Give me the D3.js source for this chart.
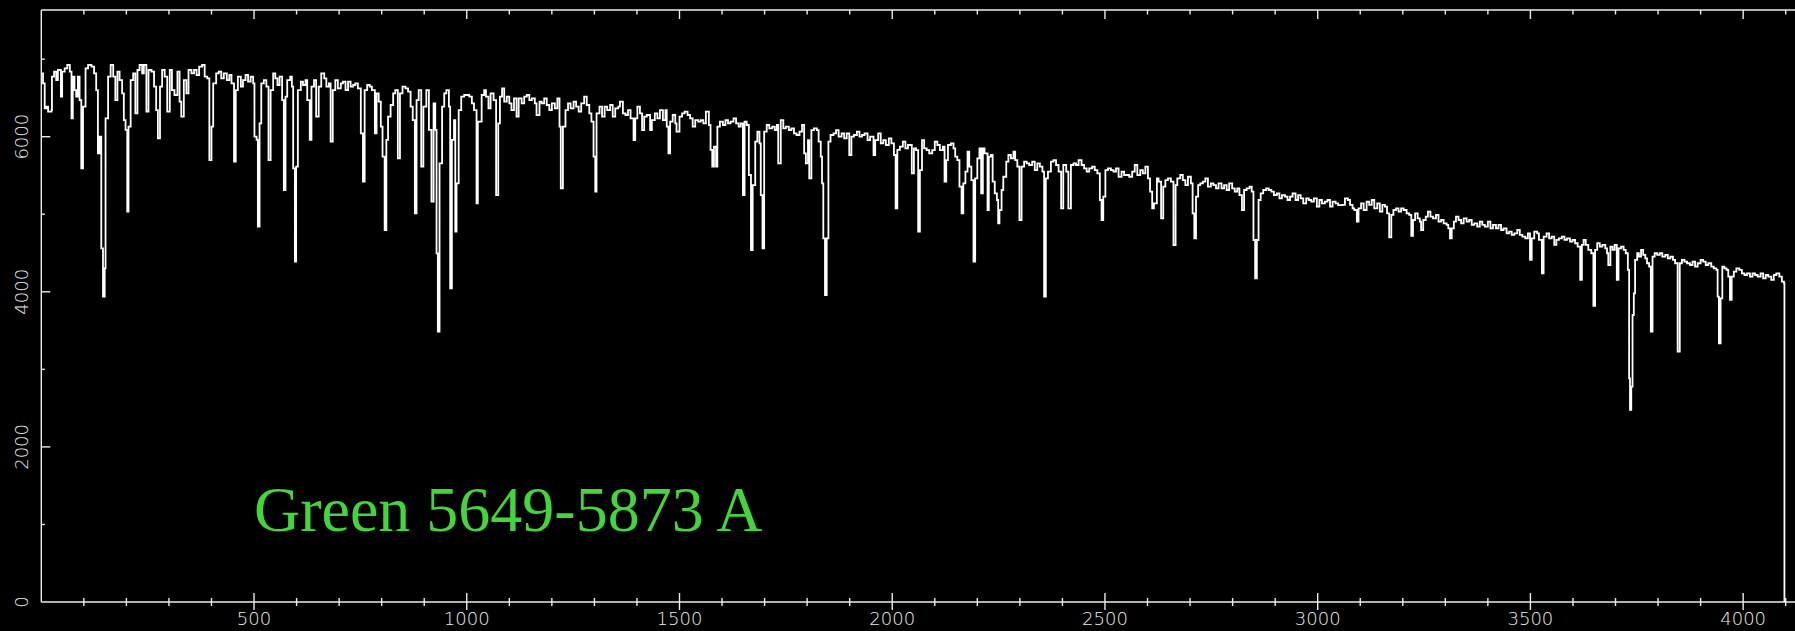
<!DOCTYPE html>
<meta charset="utf-8">
<head>
  <title>Green 5649-5873 A</title>
</head>
<script src="https://d3js.org/d3.v7.min.js"></script>
<style>
  body { margin: 0; background: #000; }
  svg { display: block; }
</style>
<div id="chart"></div>
<script>

  // spectrum, [pixel, counts], in four chunks
  var specA = [[1,6817],[4,6688],[8,6366],[12,6387],[16,6323],[24,6344],[25,6774],[30,6839],[35,6731],[39,6860],[46,6516],[49,6839],[55,6882],[61,6925],[67,6839],[71,6237],[74,6774],[78,6602],[82,6516],[86,6774],[90,6473],[94,5592],[98,6387],[104,6882],[110,6925],[118,6903],[124,6817],[129,6602],[133,5786],[137,6001],[141,4561],[145,3938],[149,4303],[151,6237],[157,6774],[163,6925],[169,6774],[174,6473],[179,6839],[184,6731],[190,6559],[194,6215],[198,6087],[202,5034],[205,6130],[210,6731],[216,6817],[221,6301],[226,6860],[231,6925],[237,6817],[241,6925],[247,6323],[252,6860],[259,6839],[265,6645],[270,6344],[274,5979],[279,6645],[284,6860],[290,6774],[296,6323],[302,6860],[307,6602],[313,6538],[320,6839],[325,6452],[329,6258],[335,6731],[341,6559],[346,6860],[353,6817],[359,6860],[365,6796],[371,6903],[378,6925],[384,6774],[390,6753],[395,5700],[400,6130],[404,6688],[411,6817],[417,6839],[423,6753],[429,6817],[436,6731],[442,6796],[447,6688],[453,5678],[457,6602],[462,6774],[469,6645],[474,6731],[480,6796],[486,6710],[492,6774],[498,6688],[501,6001],[506,5958],[509,4840],[513,6172],[517,6688],[523,6731],[529,6645],[534,5700],[539,6602],[545,6817],[550,6753],[555,6667],[560,6774],[566,6473],[570,5313],[574,6516],[578,6731],[585,6774],[589,6645],[592,5592],[596,4389],[599,5614],[603,6602],[610,6710],[615,6667],[621,6731],[625,6473],[631,5958],[635,6645],[641,6731],[646,6258],[652,6645],[658,6817],[665,6753],[670,6645],[676,6688],[680,5936],[685,6602],[691,6731],[697,6624],[704,6688],[709,6710],[715,6602],[721,6710],[727,6645],[733,6667],[738,6688],[744,6624],[751,6044],[756,5420],[760,6602],[766,6667],[772,6645],[777,6602],[784,6044],[788,6559],[793,6452],[798,6130],[802,5743],[807,4797],[811,5958],[815,6258],[821,6409],[827,6559],[832,6602],[838,5721],[843,6559],[849,6645],[856,6624],[862,6581],[868,6387],[873,6215],[878,5012],[882,6473],[887,6602],[893,5614],[898,6387],[905,6602],[911,6087],[917,5162],[922,6430],[926,6087],[929,4496],[932,3486],[936,5657],[942,6387],[947,6559],[952,6602],[958,6387],[961,4045],[965,5958],[970,6215],[973,4776],[976,5399],[981,6344],[987,6516],[994,6538],[1000,6538],[1006,6516],[1012,6430],[1017,6344],[1023,5141],[1026,6194]];

  var specB = [[1035,6538],[1041,6602],[1045,6516],[1051,6366],[1056,6559],[1063,6473],[1069,5248],[1074,6172],[1078,6516],[1083,6624],[1088,6452],[1094,6516],[1100,6430],[1105,6344],[1111,6495],[1117,6258],[1122,6495],[1129,6430],[1135,6516],[1141,6538],[1147,6473],[1153,6495],[1160,6430],[1164,6280],[1171,6452],[1176,6430],[1182,6495],[1188,6409],[1194,6344],[1200,6430],[1207,6366],[1213,6495],[1218,6129],[1221,5334],[1226,6129],[1232,6344],[1238,6430],[1244,6366],[1251,6452],[1257,6387],[1263,6323],[1269,6430],[1276,6516],[1282,6409],[1288,6301],[1293,6194],[1298,5743],[1302,5291],[1305,6301],[1312,6387],[1318,6258],[1324,6387],[1330,6344],[1337,6409],[1343,6258],[1349,6366],[1356,6387],[1360,6452],[1367,6301],[1373,6280],[1379,6344],[1385,6237],[1392,5957],[1396,6237],[1401,6387],[1407,6301],[1412,6086],[1417,6258],[1423,6280],[1431,6086],[1435,6215],[1442,6301],[1448,6237],[1454,6344],[1461,6215],[1467,6344],[1470,6129],[1474,5786],[1478,6194],[1484,6280],[1490,6172],[1493,6065],[1500,6258],[1506,6301],[1512,6323],[1519,6280],[1525,6237],[1531,6129],[1537,6215],[1544,6194],[1550,6215],[1556,6172],[1562,6323],[1569,6151],[1573,5829],[1577,5614],[1581,5872],[1586,5614],[1589,6129],[1595,6194],[1602,6151],[1608,6215],[1614,6172],[1620,6194],[1627,6237],[1633,6172],[1639,6129],[1644,6172],[1649,5248],[1653,6194],[1658,6151],[1663,5506],[1668,4539],[1672,5377],[1678,5936],[1683,6065],[1688,5914],[1691,5248],[1695,4561],[1699,6065],[1705,6151],[1711,6108],[1718,6129],[1724,6086],[1729,6151],[1732,5656],[1738,6215],[1744,6108],[1750,6129],[1757,6086],[1763,6108],[1769,6043],[1775,6022],[1782,6065],[1788,6151],[1793,5786],[1797,5656],[1802,5957],[1805,5463],[1810,6086],[1816,6108],[1823,6086],[1827,5936],[1832,5743],[1835,5399],[1838,4690],[1842,3959],[1846,4690],[1850,5936],[1855,6022],[1862,6043],[1868,6086],[1874,6000],[1881,6043],[1887,5979],[1893,6043],[1899,5764],[1904,6000],[1910,6022],[1917,6065],[1923,6000],[1929,6022],[1935,6043],[1942,5957],[1948,6000],[1956,5764],[1960,5957],[1967,6043],[1973,5914],[1979,5957],[1985,5893],[1992,5979],[1998,5914],[2004,5764],[2008,5076],[2012,5829],[2018,5872],[2025,5936],[2031,5850],[2037,5893]];

  var specC = [[2046,5527],[2051,5850],[2056,5828],[2061,4775],[2065,5570],[2070,5957],[2075,5850],[2081,5828],[2087,5785],[2094,5828],[2100,5936],[2106,5893],[2112,5828],[2119,5871],[2123,5420],[2127,5699],[2131,5893],[2138,5914],[2144,5850],[2148,5742],[2153,5699],[2158,5356],[2163,5012],[2167,5398],[2172,5549],[2177,5807],[2181,5613],[2186,5441],[2191,4388],[2195,5463],[2200,5721],[2205,5850],[2209,5270],[2213,5850],[2217,5785],[2221,5785],[2224,5055],[2227,5742],[2232,5764],[2236,5420],[2241,5270],[2246,5184],[2249,4883],[2252,5055],[2257,5313],[2261,5484],[2268,5678],[2273,5764],[2279,5721],[2285,5807],[2289,5699],[2294,5613],[2299,4926],[2304,5613],[2310,5678],[2316,5656],[2322,5635],[2329,5678],[2335,5570],[2341,5656],[2347,5613],[2353,5549],[2357,3937],[2361,5463],[2366,5549],[2373,5678],[2379,5699],[2385,5635],[2391,5549],[2397,5076],[2402,5635],[2409,5549],[2414,5076],[2420,5635],[2426,5656],[2432,5635],[2438,5699],[2445,5635],[2451,5592],[2457,5549],[2463,5592],[2470,5613],[2476,5570],[2482,5527],[2488,5184],[2492,4926],[2496,5227],[2501,5570],[2507,5592],[2514,5570],[2520,5549],[2526,5592],[2532,5484],[2539,5549],[2545,5506],[2551,5506],[2557,5484],[2564,5549],[2570,5635],[2576,5506],[2583,5570],[2589,5527],[2595,5613],[2601,5463],[2606,5291],[2611,5076],[2615,5141],[2622,5463],[2626,5420],[2632,4947],[2637,5356],[2642,5441],[2648,5463],[2655,5420],[2661,4603],[2666,5377],[2670,5463],[2677,5506],[2683,5441],[2689,5377],[2695,5484],[2702,5398],[2706,5012],[2710,4689],[2714,5227],[2719,5377],[2724,5398],[2730,5420],[2736,5463],[2742,5356],[2749,5398],[2755,5377],[2761,5334],[2767,5398],[2774,5334],[2780,5377],[2786,5313],[2792,5398],[2799,5334],[2805,5291],[2811,5334],[2816,5248],[2822,5055],[2827,5313],[2833,5334],[2840,5356],[2845,5291],[2849,4668],[2853,4174],[2857,4668],[2861,5184],[2866,5270],[2872,5313],[2879,5334],[2885,5313],[2891,5291],[2897,5248],[2904,5270],[2910,5205],[2916,5248],[2923,5227],[2929,5184],[2935,5227],[2941,5270],[2948,5184],[2954,5248],[2960,5205],[2966,5141],[2973,5205],[2979,5184],[2985,5162],[2991,5205],[2998,5098],[3004,5184],[3010,5141],[3017,5162],[3023,5184],[3029,5098],[3035,5162],[3042,5141],[3048,5119]];

  var specD = [[3057,5120],[3064,5206],[3071,5184],[3076,5120],[3082,5077],[3086,5055],[3092,4905],[3096,5077],[3102,5141],[3108,5055],[3115,5163],[3121,5120],[3127,5184],[3133,5077],[3140,5141],[3146,5034],[3152,5120],[3158,5098],[3163,5012],[3168,4703],[3173,4991],[3178,5055],[3184,5077],[3190,5034],[3196,5077],[3202,5055],[3209,5012],[3215,4991],[3220,4720],[3224,4926],[3229,5012],[3235,4948],[3240,4905],[3243,4797],[3248,4926],[3254,4969],[3259,5034],[3265,4969],[3271,4948],[3278,4991],[3284,4905],[3290,4926],[3296,4883],[3303,4862],[3307,4819],[3311,4690],[3315,4819],[3320,4905],[3325,4969],[3331,4926],[3337,4883],[3343,4948],[3350,4905],[3356,4926],[3362,4862],[3368,4883],[3375,4840],[3381,4905],[3387,4862],[3393,4840],[3400,4905],[3406,4819],[3412,4862],[3419,4819],[3425,4862],[3431,4797],[3437,4819],[3444,4754],[3450,4776],[3456,4733],[3462,4754],[3469,4797],[3475,4733],[3481,4712],[3488,4690],[3494,4754],[3499,4411],[3503,4690],[3509,4776],[3516,4754],[3520,4669],[3527,4239],[3531,4712],[3538,4754],[3544,4690],[3550,4712],[3556,4604],[3561,4669],[3567,4690],[3574,4712],[3580,4669],[3586,4690],[3593,4647],[3599,4669],[3605,4626],[3611,4583],[3617,4153],[3621,4604],[3625,4669],[3630,4604],[3636,4540],[3643,4497],[3648,3818],[3652,4540],[3657,4626],[3663,4583],[3669,4604],[3676,4561],[3680,4497],[3683,4346],[3688,4583],[3693,4540],[3698,4604],[3703,4153],[3707,4561],[3713,4583],[3719,4540],[3724,4497],[3729,4282],[3732,2885],[3734,2477],[3737,2777],[3740,3701],[3743,3981],[3746,4411],[3751,4497],[3755,4454],[3760,4540],[3765,4475],[3770,4432],[3774,4368],[3779,4325],[3783,3487],[3787,4454],[3792,4497],[3798,4475],[3804,4497],[3810,4454],[3817,4475],[3823,4432],[3829,4454],[3835,4411],[3840,4368],[3846,3229],[3851,4368],[3856,4411],[3862,4389],[3868,4368],[3875,4346],[3881,4389],[3887,4325],[3893,4368],[3900,4411],[3906,4389],[3912,4346],[3918,4368],[3925,4325],[3931,4303],[3937,4282],[3940,3938],[3943,3336],[3947,3916],[3951,4325],[3956,4303],[3961,4282],[3965,4196],[3969,3895],[3973,4196],[3978,4260],[3984,4303],[3991,4282],[3997,4239],[4003,4217],[4009,4239],[4016,4196],[4022,4239],[4028,4217],[4034,4196],[4041,4239],[4047,4174],[4053,4217],[4059,4196],[4066,4153],[4072,4217],[4078,4239],[4085,4196],[4091,4131],[4096,4110],[4097,0]];

  // axis labels
  var xLabels = [500, 1000, 1500, 2000, 2500, 3000, 3500, 4000];
  var yLabels = [0, 2000, 4000, 6000];
  var yMinor = [1000, 3000, 5000, 7000];
  var title = "Green 5649-5873 A";

  var width = 1795, height = 631;
  var axisColor = "#ececec";

  var svg = d3.select("#chart")
    .append("svg")
      .attr("width", width)
      .attr("height", height)
      .style("background", "#000");

  var x = d3.scaleLinear().domain([0, 4096]).range([41.3, 1784]);
  var y = d3.scaleLinear().domain([0, 7634]).range([602, 10]);

  // frame (right side runs off the picture)
  var frame = svg.append("g")
    .attr("stroke", axisColor)
    .attr("stroke-width", 1.4)
    .attr("fill", "none");
  frame.append("line").attr("x1", x(0)).attr("x2", width + 5).attr("y1", y(7634)).attr("y2", y(7634));
  frame.append("line").attr("x1", x(0)).attr("x2", width + 5).attr("y1", y(0)).attr("y2", y(0));
  frame.append("line").attr("x1", x(0)).attr("x2", x(0)).attr("y1", y(0)).attr("y2", y(7634));

  // x ticks every 100, big ones at 500
  var xt = d3.range(100, 4200, 100);
  xt.forEach(function(t) {
    var big = t % 500 == 0;
    var px = x(t);
    // top, pointing in
    frame.append("line").attr("x1", px).attr("x2", px)
      .attr("y1", y(7634)).attr("y2", y(7634) + (big ? 9 : 4.5));
    // bottom, crossing the axis
    frame.append("line").attr("x1", px).attr("x2", px)
      .attr("y1", y(0) - (big ? 9 : 4)).attr("y2", y(0) + (big ? 8 : 4));
  });

  // y ticks, pointing in
  yLabels.concat(yMinor).forEach(function(t) {
    if (t == 0) return;
    var big = t % 2000 == 0;
    frame.append("line").attr("x1", x(0)).attr("x2", x(0) + (big ? 9 : 3.5))
      .attr("y1", y(t)).attr("y2", y(t));
  });

  var lab = svg.append("g")
    .attr("fill", axisColor)
    .style("font-family", "'DejaVu Sans', sans-serif")
    .style("font-weight", 300)
    .style("font-size", "18px");

  lab.selectAll(".xl")
    .data(xLabels)
    .enter().append("text")
      .attr("x", function(d) { return x(d); })
      .attr("y", 625)
      .attr("text-anchor", "middle")
      .text(function(d) { return d; });

  lab.selectAll(".yl")
    .data(yLabels)
    .enter().append("text")
      .attr("transform", function(d) { return "translate(28," + y(d) + ") rotate(-90)"; })
      .attr("text-anchor", "middle")
      .text(function(d) { return d; });

  // the spectrum, drawn as a histogram
  var spec = specA.concat(specB, specC, specD);
  var line = d3.line()
    .x(function(d) { return x(d[0]); })
    .y(function(d) { return y(d[1]); })
    .curve(d3.curveStepAfter);

  svg.append("path")
    .datum(spec)
    .attr("d", line)
    .attr("fill", "none")
    .attr("stroke", "#ffffff")
    .attr("stroke-width", 1.8)
    .attr("stroke-linejoin", "miter");

  svg.append("text")
    .attr("x", 254)
    .attr("y", 531)
    .attr("fill", "#44d43c")
    .style("font-family", "'Liberation Serif', 'Times New Roman', serif")
    .style("font-size", "64px")
    .text(title);

</script>
